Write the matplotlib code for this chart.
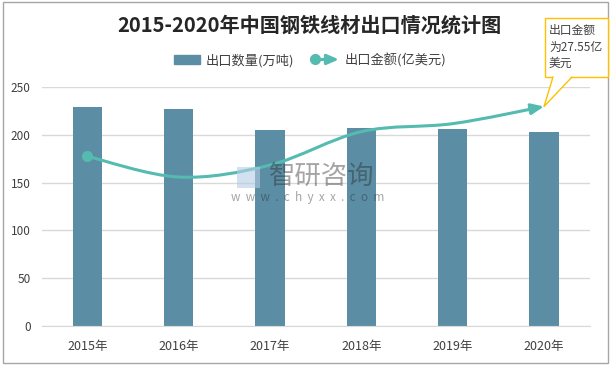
import numpy as np
import matplotlib
matplotlib.use("Agg")
import matplotlib.pyplot as plt
from matplotlib.path import Path
from matplotlib.patches import FancyArrowPatch, Rectangle, Patch, Polygon
from matplotlib.lines import Line2D
from matplotlib.legend_handler import HandlerBase

plt.rcParams['font.family'] = ['Noto Sans CJK SC', 'DejaVu Sans']

years = ["2015年", "2016年", "2017年", "2018年", "2019年", "2020年"]
volume = [229, 227, 205, 207, 206, 203]          # 出口数量(万吨)
amount = [21.3, 18.7, 20.2, 24.4, 25.4, 27.55]   # 出口金额(亿美元)

bar_color = "#5b8ea4"
line_color = "#55bbb0"
grid_color = "#d9d9d9"
text_color = "#404040"
callout_color = "#ffc000"


def smooth_path(xs, ys):
    # excel-like smoothed line (catmull-rom as cubic bezier)
    pts = np.column_stack([xs, ys]).astype(float)
    n = len(pts)
    verts = [pts[0]]
    codes = [Path.MOVETO]
    for i in range(n - 1):
        p0 = pts[max(i - 1, 0)]
        p1 = pts[i]
        p2 = pts[i + 1]
        p3 = pts[min(i + 2, n - 1)]
        verts += [p1 + (p2 - p0) / 6, p2 - (p3 - p1) / 6, p2]
        codes += [Path.CURVE4] * 3
    return Path(verts, codes)


class ArrowLineHandler(HandlerBase):
    def create_artists(self, legend, orig_handle, xdescent, ydescent,
                       width, height, fontsize, trans):
        y = height / 2 - ydescent
        arr = FancyArrowPatch((-xdescent, y), (width - xdescent, y),
                              arrowstyle="-|>,head_length=0.7,head_width=0.3",
                              mutation_scale=10, color=line_color, lw=2.2,
                              shrinkA=0, shrinkB=0, transform=trans)
        dot = Line2D([-xdescent + 2], [y], marker="o", ms=7, color=line_color,
                     transform=trans)
        return [arr, dot]


W, H = 616, 368
fig = plt.figure(figsize=(W / 100, H / 100), dpi=100)
ax = fig.add_axes([41.7 / W, 42 / H, 548 / W, 239 / H])

x = np.arange(len(years))
ax.bar(x, volume, width=0.32, color=bar_color, zorder=2)
ax.set_xlim(-0.5, len(years) - 0.5)
ax.set_ylim(0, 250)
ax.set_yticks(range(0, 251, 50))
ax.set_xticks(x, years)
ax.grid(axis="y", color=grid_color, lw=1, zorder=0)
ax.set_axisbelow(True)
for s in ["left", "right", "top"]:
    ax.spines[s].set_visible(False)
ax.spines["bottom"].set_color(grid_color)
ax.tick_params(axis="y", length=0, pad=8, labelsize=8.5, labelcolor=text_color)
ax.tick_params(axis="x", length=0, pad=10, labelsize=9, labelcolor=text_color)

ax2 = ax.twinx()
ax2.set_ylim(0, 30)
ax2.axis("off")
line = FancyArrowPatch(path=smooth_path(x, amount),
                       arrowstyle="-|>,head_length=0.75,head_width=0.32",
                       mutation_scale=10, color=line_color, lw=2.2,
                       transform=ax2.transData, zorder=3)
ax2.add_patch(line)
ax2.plot(x[:1], amount[:1], "o", ms=7, color=line_color, zorder=4)

# callout for the last value (box + tail drawn in figure pixels)
tip = ax2.transData.transform((x[-1], amount[-1]))
box_l, box_r, box_t, box_b = 545, 608, H - 18, H - 77
fig.patches.append(Rectangle((box_l, box_b), box_r - box_l, box_t - box_b,
                             transform=None, fc="white", ec=callout_color,
                             lw=1, zorder=5))
base1, base2 = 553, 572
fig.patches.append(Polygon([(base1, box_b + 1), (tip[0], tip[1]), (base2, box_b + 1)],
                           closed=True, transform=None, fc="white", ec="none",
                           zorder=6))
fig.lines.append(Line2D([base1, tip[0], base2], [box_b, tip[1], box_b],
                        transform=None, color=callout_color, lw=1, zorder=7))
fig.text(549, H - 47, f"出口金额\n为{amount[-1]}亿\n美元", transform=None,
         ha="left", va="center", fontsize=8.5, color=text_color,
         linespacing=1.35, zorder=8)

fig.text(309 / W, 1 - 25 / H, "2015-2020年中国钢铁线材出口情况统计图",
         ha="center", va="center", fontsize=14.5, fontweight="bold", color="#262626")

handles = [Patch(color=bar_color), Line2D([], [], color=line_color)]
fig.legend(handles, ["出口数量(万吨)", "出口金额(亿美元)"],
           handler_map={Line2D: ArrowLineHandler()},
           loc="center", bbox_to_anchor=(310 / W, 1 - 60 / H), ncol=2,
           frameon=False, fontsize=9.5, handlelength=2.0, handleheight=0.6,
           handletextpad=0.4, columnspacing=1.4, labelcolor=text_color)

# watermark
fig.text(322 / W, 1 - 176 / H, "智研咨询", ha="center", va="center",
         fontsize=19, color="#282828", alpha=0.42, zorder=10)
fig.text(308 / W, 1 - 197 / H, "w  w  w  .  c  h  y  x  x  .  c  o  m", ha="center",
         va="center", fontsize=8.5, color="#282828", alpha=0.42, zorder=10)
fig.patches.append(Rectangle((237 / W, 1 - 188 / H), 23 / W, 21 / H,
                             transform=fig.transFigure, fc="#b4cde6", ec="none",
                             alpha=0.6, zorder=10))

fig.patches.append(Rectangle((3 / W, 1 - 363 / H), 605 / W, 361 / H,
                             transform=fig.transFigure, fill=False,
                             ec="#a6a6a6", lw=1))

fig.savefig("out.png", dpi=100)
